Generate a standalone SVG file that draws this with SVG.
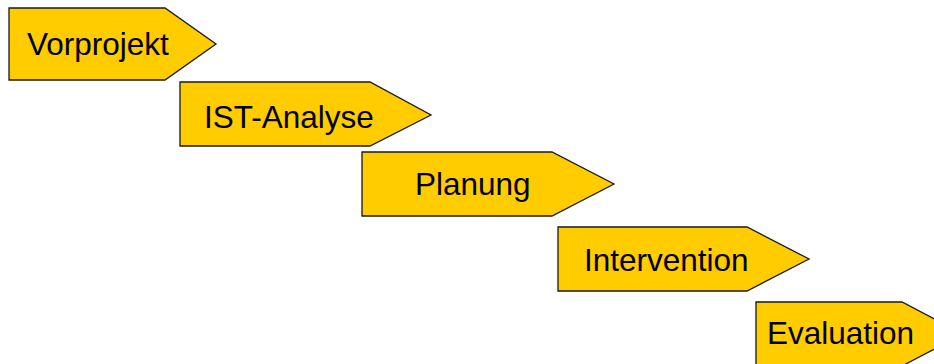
<svg xmlns="http://www.w3.org/2000/svg" width="934" height="364" viewBox="0 0 934 364">
  <style>
    .step { fill: #FFCC00; stroke: #1a1a1a; stroke-width: 1.3; stroke-linejoin: miter; }
    .label { font-family: "Liberation Sans", Arial, sans-serif; font-size: 31.5px; fill: #000; }
  </style>
  <rect width="934" height="364" fill="#ffffff"/>
  <g id="connectors"></g>
  <g id="vorprojekt">
    <polygon class="step" points="9,8 165,8 216,44 165,80 9,80"/>
    <text class="label" x="27" y="55">Vorprojekt</text>
  </g>
  <g id="ist-analyse">
    <polygon class="step" points="180,82 370,82 431,115 370,146 180,146"/>
    <text class="label" x="204" y="128">IST-Analyse</text>
  </g>
  <g id="planung">
    <polygon class="step" points="362,152 552,152 614,184 552,216 362,216"/>
    <text class="label" x="415" y="195">Planung</text>
  </g>
  <g id="intervention">
    <polygon class="step" points="558,227 747,227 809,259 747,291 558,291"/>
    <text class="label" x="584" y="271">Intervention</text>
  </g>
  <g id="evaluation">
    <polygon class="step" points="756,302 902,302 963,334 902,366 756,366"/>
    <text class="label" x="767" y="344">Evaluation</text>
  </g>
</svg>
